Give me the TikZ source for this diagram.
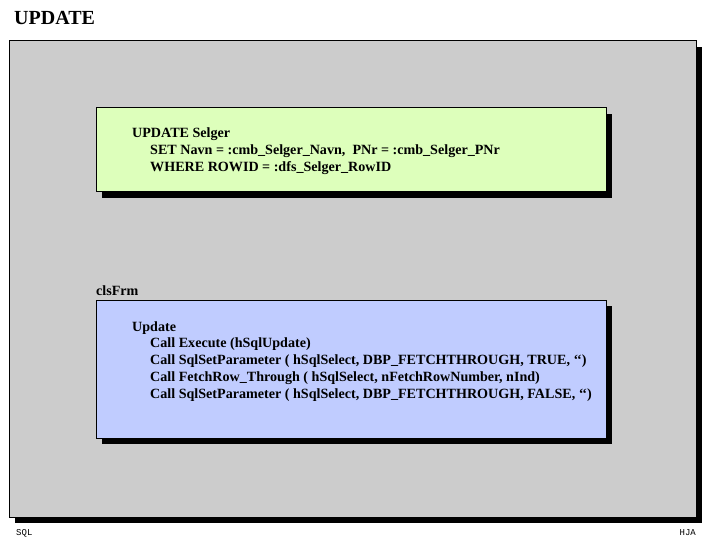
\documentclass[tikz,border=0pt]{standalone}
\usepackage{fontspec}
\setmainfont{Liberation Serif}
\newfontfamily\monof{Liberation Mono}
\begin{document}
\begin{tikzpicture}[x=1pt,y=-1pt,
  panel/.style={draw=black,line width=1pt},
  shadow/.style={fill=black},
  txt/.style={anchor=base west,inner sep=0pt,font=\fontsize{14.1}{15}\selectfont\bfseries}]
\useasboundingbox[fill=white] (0,0) rectangle (720,540);
\node[anchor=base west,inner sep=0pt,font=\fontsize{20}{22}\selectfont\bfseries] (title) at (14,25) {UPDATE};
% big panel
\fill[shadow] (15,47) rectangle (702,523);
\filldraw[panel,fill={rgb,255:red,204;green,204;blue,204}] (9,41) rectangle (696,517);
% green
\fill[shadow] (102,114) rectangle (612,198);
\filldraw[panel,fill={rgb,255:red,221;green,255;blue,187}] (96,108) rectangle (606,192);
\node[txt] (g1) at (132,138) {UPDATE Selger};
\node[txt] (g2) at (150,155) {SET Navn = :cmb\_Selger\_Navn,\ \ PNr = :cmb\_Selger\_PNr};
\node[txt] (g3) at (150,172) {WHERE ROWID = :dfs\_Selger\_RowID};
% blue
\node[txt] (cls) at (96,295) {clsFrm};
\fill[shadow] (102,306) rectangle (612,444);
\filldraw[panel,fill={rgb,255:red,192;green,204;blue,255}] (96,300) rectangle (606,438);
\node[txt] (b1) at (132,331) {Update};
\node[txt] (b2) at (150,347.8) {Call Execute (hSqlUpdate)};
\node[txt] (b3) at (150,364.6) {Call SqlSetParameter ( hSqlSelect, DBP\_FETCHTHROUGH, TRUE, \textquoteleft\textquoteleft)};
\node[txt] (b4) at (150,381.4) {Call FetchRow\_Through ( hSqlSelect, nFetchRowNumber, nInd)};
\node[txt] (b5) at (150,398.2) {Call SqlSetParameter ( hSqlSelect, DBP\_FETCHTHROUGH, FALSE, \textquoteleft\textquoteleft)};
\node[anchor=base west,inner sep=0pt,font=\monof\fontsize{9}{10}\selectfont] (sql) at (16,535) {SQL};
\node[anchor=base east,inner sep=0pt,font=\monof\fontsize{9}{10}\selectfont] (hja) at (696,535) {HJA};
\end{tikzpicture}
\end{document}
